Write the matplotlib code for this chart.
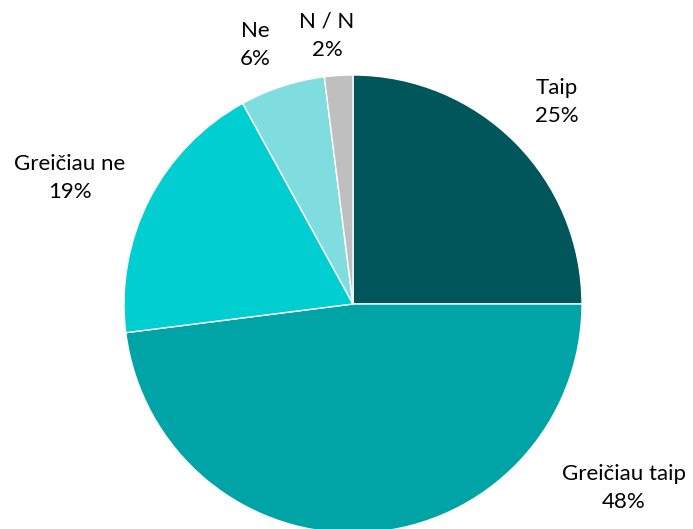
import matplotlib.pyplot as plt

labels = ["Taip", "Greičiau taip", "Greičiau ne", "Ne", "N / N"]
values = [25, 48, 19, 6, 2]
colors = ["#00565B", "#00A3A6", "#00CED1", "#80DDDF", "#BFBFBF"]
# label centres in pixels (x from left, y from top)
label_px = [(557, 102), (624, 488), (70, 178), (255, 45), (327, 36)]

W, H = 693, 529
cx, cy, r = 353, 304, 229

fig = plt.figure(figsize=(W / 100, H / 100), dpi=100)
ax = fig.add_axes([0, 0, 1, 1])
ax.pie(values, colors=colors, startangle=90, counterclock=False, radius=1,
       wedgeprops=dict(edgecolor="white", linewidth=1))
ax.set_xlim(-cx / r, (W - cx) / r)
ax.set_ylim(-(H - cy) / r, cy / r)
ax.set_aspect("auto")
ax.axis("off")

for lab, v, (px, py) in zip(labels, values, label_px):
    x = (px - cx) / r
    y = (cy - py) / r
    ax.text(x, y, f"{lab}\n{v}%", ha="center", va="center", fontsize=16,
            family="Lato", color="#000000", linespacing=1.5)

fig.savefig("out.png", dpi=100)
plt.close(fig)
